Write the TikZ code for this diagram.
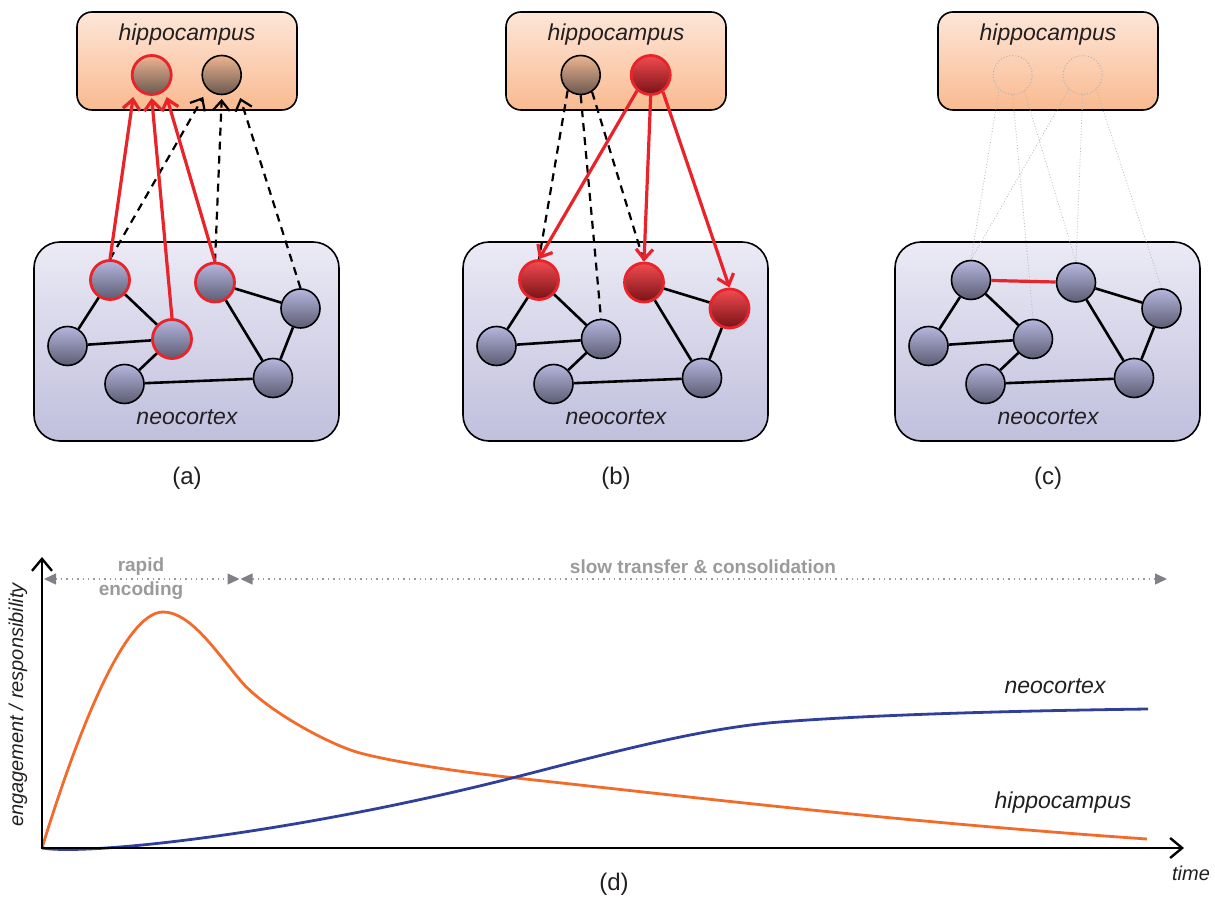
\documentclass[tikz,border=0pt]{standalone}
\usepackage{fontspec}
\setmainfont{Liberation Sans}
\usetikzlibrary{arrows.meta,calc}

\definecolor{inkdark}{HTML}{231F20}
\definecolor{synred}{HTML}{E8242A}
\definecolor{hipTop}{HTML}{FDE6D8}
\definecolor{hipBot}{HTML}{F9BA90}
\definecolor{ctxTop}{HTML}{EBEAF5}
\definecolor{ctxBot}{HTML}{C0BFDD}
\definecolor{cellTop}{HTML}{B6B6DF}
\definecolor{cellMid}{HTML}{9C9CC6}
\definecolor{cellBot}{HTML}{5C5C73}
\definecolor{hcellTop}{HTML}{EDB590}
\definecolor{hcellMid}{HTML}{B88C72}
\definecolor{hcellBot}{HTML}{6B5850}
\definecolor{fireTop}{HTML}{F34B50}
\definecolor{fireMid}{HTML}{D93238}
\definecolor{fireBot}{HTML}{781216}
\definecolor{phasegray}{HTML}{9A9A9C}
\definecolor{phaseheadgray}{HTML}{808087}
\definecolor{faintgray}{HTML}{B4B4B4}
\definecolor{hippoorange}{HTML}{F26B2B}
\definecolor{cortexblue}{HTML}{30409A}

\tikzset{
  phasetip/.tip={Triangle[length=6pt,width=5.5pt,fill=phaseheadgray,color=phaseheadgray]},
  barbtip/.tip={Straight Barb[length=5pt,width=8.5pt]},
  axistip/.tip={Straight Barb[length=6pt,width=10pt]}
}

% neocortex region with its seven-cell network; #1 prefix, #2..#8 extra cell styles
\newcommand\cortexnet[8]{%
  \node[cortexbox] (#1-ctx) at (186.5,341.5) {};
  \node[boxlabel] (#1-ctxlabel) at (187,417) {neocortex};
  \node[cell,#2] (#1-n1) at (110,280) {};
  \node[cell,#3] (#1-n2) at (67.5,346) {};
  \node[cell,#4] (#1-n3) at (172,339) {};
  \node[cell,#5] (#1-n4) at (124.5,384) {};
  \node[cell,#6] (#1-n5) at (215,282.5) {};
  \node[cell,#7] (#1-n6) at (300.5,308.5) {};
  \node[cell,#8] (#1-n7) at (273,378) {};
  \draw[edge] (#1-n1) -- (#1-n2);
  \draw[edge] (#1-n1) -- (#1-n3);
  \draw[edge] (#1-n2) -- (#1-n3);
  \draw[edge] (#1-n3) -- (#1-n4);
  \draw[edge] (#1-n4) -- (#1-n7);
  \draw[edge] (#1-n5) -- (#1-n6);
  \draw[edge] (#1-n5) -- (#1-n7);
  \draw[edge] (#1-n6) -- (#1-n7);
}
% hippocampus region with its two cells; #1 prefix, #2/#3 cell styles
\newcommand\hipporegion[3]{%
  \node[hippbox] (#1-hip) at (187,61) {};
  \node[boxlabel] (#1-hiplabel) at (187,35) {hippocampus};
  \node[#2] (#1-h1) at (151.7,75) {};
  \node[#3] (#1-h2) at (221.7,75) {};
}

\begin{document}
\begin{tikzpicture}[x=0.5pt,y=-0.5pt,
  hippbox/.style={draw=black, line width=0.8pt, rounded corners=7.5pt,
    top color=hipTop, bottom color=hipBot, minimum width=110pt, minimum height=49pt, inner sep=0pt},
  cortexbox/.style={draw=black, line width=0.8pt, rounded corners=13pt,
    top color=ctxTop, bottom color=ctxBot, minimum width=152.5pt, minimum height=99.5pt, inner sep=0pt},
  cell/.style={circle, draw=black, line width=0.8pt, minimum size=19.5pt, inner sep=0pt,
    top color=cellTop, middle color=cellMid, bottom color=cellBot},
  hcell/.style={cell, top color=hcellTop, middle color=hcellMid, bottom color=hcellBot},
  ring/.style={draw=synred, line width=1.4pt},
  fired/.style={draw=synred, line width=1.4pt, top color=fireTop, middle color=fireMid, bottom color=fireBot},
  ghostcell/.style={circle, draw=faintgray, densely dotted, line width=0.5pt, minimum size=19.5pt, inner sep=0pt},
  plain/.style={},
  boxlabel/.style={font=\fontsize{11.5}{13}\selectfont\itshape, text=inkdark, inner sep=0pt},
  panellabel/.style={font=\fontsize{12}{14}\selectfont, text=inkdark, inner sep=0pt},
  edge/.style={draw=black, line width=1.3pt},
  hotedge/.style={draw=synred, line width=1.6pt},
  hotarrow/.style={draw=synred, line width=1.6pt, -barbtip},
  coldarrow/.style={draw=black, line width=1.1pt, dash pattern=on 4pt off 3pt, -barbtip},
  coldline/.style={draw=black, line width=1.1pt, dash pattern=on 4pt off 3pt},
  faint/.style={draw=faintgray, line width=0.4pt, densely dotted},
  axis/.style={draw=black, line width=1.2pt},
  phase/.style={draw=phasegray, line width=0.7pt, dotted},
  phaselabel/.style={font=\fontsize{9.5}{11}\selectfont\bfseries, text=phasegray, inner sep=0pt},
  curvelabel/.style={font=\fontsize{11.5}{13}\selectfont\itshape, text=inkdark, inner sep=0pt},
  axislabel/.style={font=\fontsize{10}{12}\selectfont\itshape, text=inkdark, inner sep=0pt},
  hippcurve/.style={draw=hippoorange, line width=1.4pt},
  cortexcurve/.style={draw=cortexblue, line width=1.4pt}
]
\useasboundingbox (0,0) rectangle (1215,897);

% ---------- (a) encoding: cortex cells drive hippocampal cells ----------
\begin{scope}
  \hipporegion{a}{hcell,ring}{hcell}
  \cortexnet{a}{ring}{plain}{ring}{plain}{ring}{plain}{plain}
  \draw[coldarrow] (a-n1.north) -- ($(a-h2)+(-18.5,22)$);
  \draw[coldarrow] (a-n5.north) -- ($(a-h2)+(0,24)$);
  \draw[coldarrow] (a-n6.north) -- ($(a-h2)+(18.5,23)$);
  \draw[hotarrow] (a-n1.north) -- ($(a-h1)+(-18.5,22)$);
  \draw[hotarrow] (a-n3.north) -- ($(a-h1)+(0,23)$);
  \draw[hotarrow] (a-n5.north) -- ($(a-h1)+(15,22)$);
  \node[panellabel] (a-label) at (187,478) {(a)};
\end{scope}

% ---------- (b) replay: hippocampal cell reactivates the cortex ----------
\begin{scope}[shift={(429,0)}]
  \hipporegion{b}{hcell}{cell,fired}
  \cortexnet{b}{fired}{plain}{plain}{plain}{fired}{fired}{plain}
  \draw[coldline] (b-h1.230) -- (b-n1.north);
  \draw[coldline] (b-h1.south) -- (b-n3.north);
  \draw[coldline] (b-h1.304) -- (b-n5.north);
  \draw[hotarrow] (b-h2.229) -- (b-n1.north);
  \draw[hotarrow] (b-h2.south) -- (b-n5.north);
  \draw[hotarrow] (b-h2.306) -- (b-n6.north);
  \node[panellabel] (b-label) at (187,478) {(b)};
\end{scope}

% ---------- (c) consolidated: new cortical link, hippocampus fades ----------
\begin{scope}[shift={(861,0)}]
  \hipporegion{c}{ghostcell}{ghostcell}
  \cortexnet{c}{plain}{plain}{plain}{plain}{plain}{plain}{plain}
  \draw[faint] (c-h1.227) -- (c-n1.north);
  \draw[faint] (c-h1.south) -- (c-n3.north);
  \draw[faint] (c-h1.306) -- (c-n5.north);
  \draw[faint] (c-h2.226) -- (c-n1.north);
  \draw[faint] (c-h2.south) -- (c-n5.north);
  \draw[faint] (c-h2.313) -- (c-n6.north);
  \draw[hotedge] (c-n1) -- (c-n5);
  \node[panellabel] (c-label) at (187,478) {(c)};
\end{scope}

% ---------- (d) engagement over time ----------
\coordinate (origin) at (42,848);
\coordinate (ytip) at (42,557);
\coordinate (xtip) at (1184,848);

% phase spans
\coordinate (enc-start) at (44,579);
\coordinate (enc-end) at (239.5,579);
\coordinate (slow-start) at (240.5,579);
\coordinate (slow-end) at (1167,579);
\draw[phase, phasetip-phasetip] (enc-start) -- (enc-end);
\draw[phase, phasetip-phasetip] (slow-start) -- (slow-end);
\node[phaselabel] (rapid) at (141,567) {rapid};
\node[phaselabel] (encoding) at (141,591) {encoding};
\node[phaselabel] (slow) at (703,567) {slow transfer \& consolidation};

% hippocampal engagement: fast rise, broad peak, then slow decay
\draw[hippcurve] (origin)
  .. controls (72,750) and (122,612) .. (163,612)
  .. controls (190,612) and (215,650) .. (240,680)
  .. controls (265,710) and (330,745) .. (360,753)
  .. controls (390,761) and (450,771) .. (516,778)
  .. controls (700,798) and (900,822) .. (1147,839);
% neocortical engagement: slow sigmoid growth
\draw[cortexcurve] (origin)
  .. controls (90,856) and (300,832) .. (516,777)
  .. controls (600,755.5) and (700,728) .. (780,722)
  .. controls (870,715) and (1000,711) .. (1148,709);

% axes
\draw[axis, axistip-axistip] (ytip) -- (origin) -- (xtip);

\node[curvelabel] (neo-lab) at (1055,686) {neocortex};
\node[curvelabel] (hip-lab) at (1063,803) {hippocampus};
\node[axislabel, rotate=90] (ylab) at (18,705) {engagement / responsibility};
\node[axislabel] (tlab) at (1191,873) {time};
\node[panellabel] (d-label) at (614,884) {(d)};
\end{tikzpicture}
\end{document}
